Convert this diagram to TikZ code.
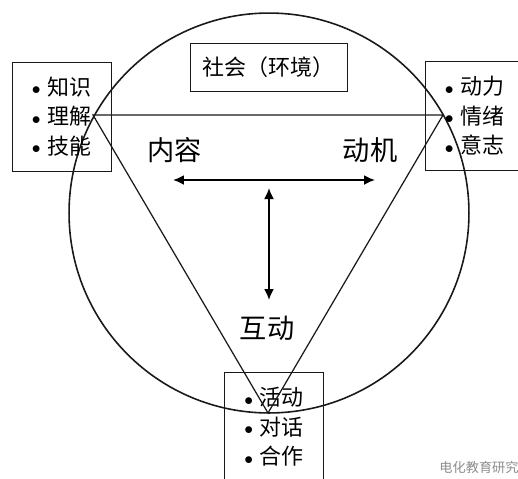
\documentclass[tikz,border=0pt]{standalone}
\usepackage{fontspec}
\setmainfont{Noto Sans CJK SC}
\usepackage{tikz}
\usetikzlibrary{positioning, arrows.meta}

\newcommand{\dotitem}{\raisebox{0.3pt}{\fontsize{10}{12}\selectfont$\bullet$}\hspace{0.13cm}}

\begin{document}
\begin{tikzpicture}[x=0.02cm,y=-0.02cm,font=\fontsize{12.5}{16.8}\selectfont]
    \tikzstyle{listbox} = [rectangle,
minimum width=1.98cm,
minimum height=2.18cm,
align=left,
inner sep=0pt,
draw=black!90]

\tikzstyle{titlebox} = [rectangle,
minimum width=3.14cm,
minimum height=0.96cm,
draw=black!90]

\tikzstyle{biglabel} = [font=\fontsize{15.5}{18}\selectfont]
\tikzstyle{line} = [line width=0.7pt, black!90]
\tikzstyle{arrow} = [line width=1pt,{Latex[length=2.2mm,width=2mm]}-{Latex[length=2.2mm,width=2mm]}]

\clip (0,0) rectangle (518,478);

\draw [line, line width=0.9pt] (269,213) circle [radius=4cm];

\node (society) [titlebox] at (268.5,67) {社会（环境）};
\node (knowledge) [listbox] at (61.5,116.5) {\dotitem 知识\\\dotitem 理解\\\dotitem 技能};
\node (motive) [listbox] at (474.5,116) {\dotitem 动力\\\dotitem 情绪\\\dotitem 意志};
\node (activity) [listbox] at (274,427) {\dotitem 活动\\\dotitem 对话\\\dotitem 合作};

\node (content) [biglabel] at (175,150) {内容};
\node (drive) [biglabel] at (370,150) {动机};
\node (interaction) [biglabel] at (267,328) {互动};

% triangle corners
\coordinate (kc) at (93,115);
\coordinate (mc) at (443,115);
\coordinate (ac) at (268,413);
\draw [line] (kc) -- (mc) -- (ac) -- cycle;

% arrows
\coordinate (hl) at (173,180);
\coordinate (hr) at (375,180);
\coordinate (vt) at (269,188);
\coordinate (vb) at (269,300);
\draw [arrow] (hl) -- (hr);
\draw [arrow] (vt) -- (vb);

\node (mark) [text=black!45, font=\fontsize{7.5}{9}\selectfont] at (479,467) {电化教育研究};

\end{tikzpicture}
\end{document}
